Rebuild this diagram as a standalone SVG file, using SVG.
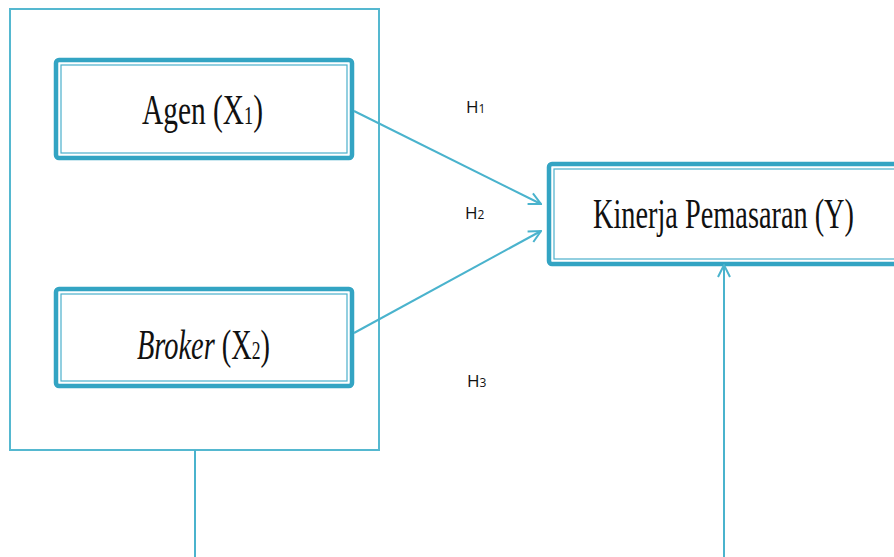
<svg xmlns="http://www.w3.org/2000/svg" width="894" height="557" viewBox="0 0 894 557">
<style>
.outer{fill:none;stroke:#33a4c3;stroke-width:4.5}
.inner{fill:none;stroke:#4ab0cc;stroke-width:1.2}
.frame{fill:none;stroke:#55b8d0;stroke-width:2}
.conn{fill:none;stroke:#4ab3cd;stroke-width:2}
.lbl{font-family:"Times New Roman","Liberation Serif",serif;font-size:42px;fill:#111}
.h{font-family:"Open Sans","Liberation Sans",sans-serif;font-size:17px;fill:#111}
</style>
<defs>
<marker id="chev" viewBox="0 0 14 14" refX="13" refY="7" markerWidth="14" markerHeight="14" markerUnits="userSpaceOnUse" orient="auto">
<path d="M1,1 L13,7 L1,13" fill="none" stroke="#4ab3cd" stroke-width="2"/>
</marker>
</defs>
<rect width="894" height="557" fill="#fff"/>
<g id="frame">
<rect class="frame" x="10" y="9" width="369" height="441"/>
</g>
<g id="agen">
<rect class="outer" x="56" y="60" width="296" height="98" rx="3"/>
<rect class="inner" x="61" y="65" width="286" height="88"/>
<text class="lbl" x="142" y="124" textLength="121" lengthAdjust="spacingAndGlyphs">Agen (X<tspan font-size="26">1</tspan>)</text>
</g>
<g id="broker">
<rect class="outer" x="56" y="289" width="296" height="97" rx="3"/>
<rect class="inner" x="61" y="294" width="286" height="87"/>
<text class="lbl" x="137" y="359" textLength="133" lengthAdjust="spacingAndGlyphs"><tspan font-style="italic">Broker</tspan> (X<tspan font-size="26">2</tspan>)</text>
</g>
<g id="kinerja">
<rect class="outer" x="549" y="164" width="360" height="100" rx="3"/>
<rect class="inner" x="554" y="169" width="350" height="90"/>
<text class="lbl" x="593" y="228" textLength="261" lengthAdjust="spacingAndGlyphs">Kinerja Pemasaran (Y)</text>
</g>
<g id="connectors">
<line class="conn" x1="354" y1="111" x2="541" y2="204" marker-end="url(#chev)"/>
<line class="conn" x1="354" y1="333" x2="541" y2="231" marker-end="url(#chev)"/>
<line class="conn" x1="724" y1="557" x2="724" y2="265" marker-end="url(#chev)"/>
<line class="conn" x1="195" y1="450" x2="195" y2="557"/>
</g>
<g id="labels">
<text class="h" x="466" y="113">H<tspan font-size="12">1</tspan></text>
<text class="h" x="465" y="219">H<tspan font-size="12">2</tspan></text>
<text class="h" x="467" y="387">H<tspan font-size="12">3</tspan></text>
</g>
</svg>
